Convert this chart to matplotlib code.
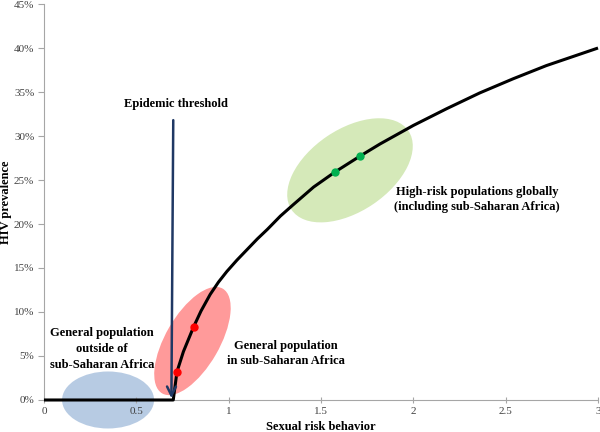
import numpy as np
import matplotlib
matplotlib.use("Agg")
import matplotlib.pyplot as plt
from matplotlib.patches import Ellipse
from matplotlib.transforms import ScaledTranslation
from matplotlib.ticker import FuncFormatter

# ------------------------------------------------------------------
#                               data
# ------------------------------------------------------------------
risk = [0, 0.70, 0.72, 0.755, 0.81, 0.85, 0.90, 0.945, 0.99, 1.045, 1.10,
        1.155, 1.21, 1.28, 1.35, 1.46, 1.575, 1.71, 1.82, 2.00, 2.18,
        2.36, 2.54, 2.72, 3.00]
prevalence = [0, 0, 0.032, 0.055, 0.083, 0.101, 0.120, 0.134, 0.146, 0.159,
              0.171, 0.183, 0.194, 0.209, 0.222, 0.242, 0.259, 0.277, 0.291,
              0.312, 0.331, 0.349, 0.365, 0.380, 0.400]

red_x = [0.72, 0.81]
red_y = [0.032, 0.083]
green_x = [1.575, 1.71]
green_y = [0.259, 0.277]

x_ticks = [0, 0.5, 1, 1.5, 2, 2.5, 3]
y_ticks = [0, 0.05, 0.10, 0.15, 0.20, 0.25, 0.30, 0.35, 0.40, 0.45]

serif = ['Liberation Serif', 'DejaVu Serif']
plt.rcParams['font.family'] = serif

fig = plt.figure(figsize=(6, 4.32), dpi=100)
ax = fig.add_axes([0.0733, 0.0741, 0.9234, 0.9166])

# ------------------------------------------------------------------
#                    shaded population ellipses
# ------------------------------------------------------------------
def blob(cx, cy, w_px, h_px, ang, col):
    # size in pixels (dpi 100), centre in data coords
    tr = fig.dpi_scale_trans + ScaledTranslation(cx, cy, ax.transData)
    e = Ellipse((0, 0), w_px / 100, h_px / 100, angle=ang, transform=tr,
                facecolor=col, edgecolor='none', clip_on=False, zorder=1)
    ax.add_artist(e)

blob(0.347, 0.0, 92, 57, 0, '#b7cbe3')
blob(0.804, 0.067, 121, 54, 60, '#ff9a9a')
blob(1.657, 0.261, 141, 82, 34, '#d5e9b9')

# ------------------------------------------------------------------
#                         curve and points
# ------------------------------------------------------------------
ax.plot(risk, prevalence, color='black', lw=2.2, zorder=3,
        solid_capstyle='butt', solid_joinstyle='round', clip_on=False)
ax.plot(red_x, red_y, 'o', color='#ff0000', ms=5, zorder=4)
ax.plot(green_x, green_y, 'o', color='#00b050', ms=5, zorder=4)

ax.annotate('', xy=(0.69, 0.002), xytext=(0.70, 0.318),
            arrowprops=dict(arrowstyle='->', color='#1f3864', lw=1.8,
                            mutation_scale=16, shrinkA=0, shrinkB=0),
            zorder=5)

# ------------------------------------------------------------------
#                             labels
# ------------------------------------------------------------------
tkw = dict(fontsize=9, fontweight='bold', ha='center', va='center',
           linespacing=1.4, zorder=6)
ax.text(0.715, 0.336, 'Epidemic threshold', **tkw)
ax.text(0.314, 0.058, 'General population\noutside of\nsub-Saharan Africa', **tkw)
ax.text(1.31, 0.053, 'General population\nin sub-Saharan Africa', **tkw)
ax.text(2.344, 0.228, 'High-risk populations globally\n(including sub-Saharan Africa)', **tkw)

# ------------------------------------------------------------------
#                              axes
# ------------------------------------------------------------------
ax.set_xlim(0, 3)
ax.set_ylim(0, 0.45)
ax.set_xticks(x_ticks)
ax.set_xticklabels(['0', '0.5', '1', '1.5', '2', '2.5', '3'])
ax.set_yticks(y_ticks)
ax.yaxis.set_major_formatter(FuncFormatter(lambda v, p: '%d%%' % round(v * 100)))

for s in ['top', 'right']:
    ax.spines[s].set_visible(False)
for s in ['left', 'bottom']:
    ax.spines[s].set_color('#a6a6a6')
    ax.spines[s].set_linewidth(0.8)
    ax.spines[s].set_zorder(0.5)

ax.tick_params(axis='both', colors='#a6a6a6', labelcolor='#404040',
               labelsize=8, width=0.8)
ax.tick_params(axis='y', length=4, direction='out', pad=3)
ax.tick_params(axis='x', length=4, direction='inout', pad=3)

ax.set_xlabel('Sexual risk behavior', fontsize=9, fontweight='bold', labelpad=4)
ax.set_ylabel('HIV prevalence', fontsize=9, fontweight='bold')
ax.yaxis.set_label_coords(-0.057, 0.5)

fig.savefig('out.png', dpi=100)
